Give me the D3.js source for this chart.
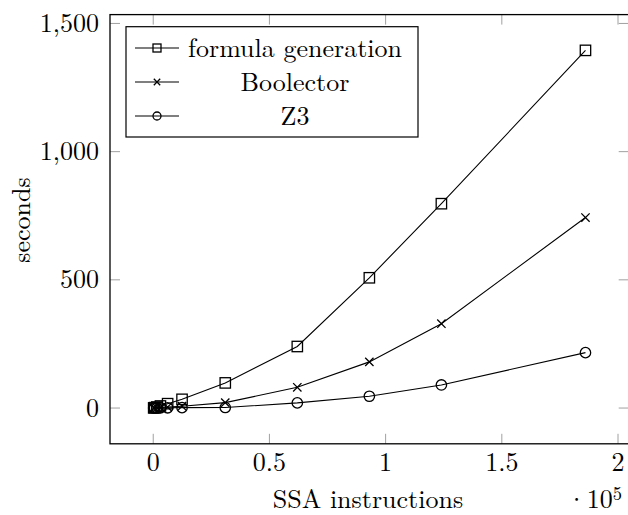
<!DOCTYPE html>
<html>
<head>
<meta charset="utf-8">
<script src="https://cdn.jsdelivr.net/npm/d3@7/dist/d3.min.js"></script>
<style>
  html, body { margin: 0; padding: 0; background: #fff; }
  svg { display: block; }
</style>
</head>
<body>
<svg id="chart" width="628" height="515"></svg>
<script>
// SSA instructions (x 1e5)
const ssaInstructions = [0.002, 0.006, 0.0155, 0.031, 0.062, 0.124, 0.31, 0.62, 0.93, 1.24, 1.86];
const formulaGeneration = [0.5, 1.5, 4, 8, 17, 34, 98, 240, 508, 797, 1395];
const boolector = [0.2, 0.5, 1, 2, 4, 7, 21, 81, 180, 329, 743];
const z3 = [0.1, 0.2, 0.4, 0.6, 1, 1.5, 2, 20, 46, 90, 216];
const seriesNames = ["formula generation", "Boolector", "Z3"];
const xTicks = [0, 0.5, 1, 1.5, 2];
const yTicks = [0, 500, 1000, 1500];

const FONT = '"Latin Modern Roman", "Liberation Serif", serif';
const svg = d3.select("#chart");
const L = 110, R = 628.7, T = 14.6, B = 443.8;
const x = d3.scaleLinear().domain([-0.186, 2.046]).range([L, R]);
const y = d3.scaleLinear().domain([-139.5, 1534.5]).range([B, T]);

const tickColor = "#a0a0a0";
const tickLen = 10;
const fs = 26;

function txt(sel) { return sel.append("text").style("font-family", FONT).style("font-size", fs + "px").attr("fill", "#000"); }

// ticks (inside, both sides)
const g = svg.append("g");
xTicks.forEach(t => {
  g.append("line").attr("x1", x(t)).attr("x2", x(t)).attr("y1", B).attr("y2", B - tickLen)
    .attr("stroke", tickColor).attr("stroke-width", 1);
  g.append("line").attr("x1", x(t)).attr("x2", x(t)).attr("y1", T).attr("y2", T + tickLen)
    .attr("stroke", tickColor).attr("stroke-width", 1);
  txt(g).attr("x", x(t)).attr("y", 471).attr("text-anchor", "middle").text(d3.format("")(t));
});
yTicks.forEach(t => {
  g.append("line").attr("x1", L).attr("x2", L + tickLen).attr("y1", y(t)).attr("y2", y(t))
    .attr("stroke", tickColor).attr("stroke-width", 1);
  g.append("line").attr("x1", R).attr("x2", R - tickLen).attr("y1", y(t)).attr("y2", y(t))
    .attr("stroke", tickColor).attr("stroke-width", 1);
  txt(g).attr("x", 99).attr("y", y(t) + 8.5).attr("text-anchor", "end").text(d3.format(",")(t));
});

// series
const series = [
  {name: seriesNames[0], vals: formulaGeneration, mark: "square"},
  {name: seriesNames[1], vals: boolector, mark: "cross"},
  {name: seriesNames[2], vals: z3, mark: "circle"}
];
const line = d3.line().x(d => x(d[0])).y(d => y(d[1]));

function drawMark(sel, type, cx, cy, s) {
  if (type === "square") {
    sel.append("rect").attr("x", cx - s).attr("y", cy - s).attr("width", 2 * s).attr("height", 2 * s)
      .attr("fill", "none").attr("stroke", "#000").attr("stroke-width", 1.3);
  } else if (type === "circle") {
    sel.append("circle").attr("cx", cx).attr("cy", cy).attr("r", s)
      .attr("fill", "none").attr("stroke", "#000").attr("stroke-width", 1.3);
  } else {
    const c = s * 0.8;
    sel.append("path").attr("d", `M${cx - c},${cy - c}L${cx + c},${cy + c}M${cx - c},${cy + c}L${cx + c},${cy - c}`)
      .attr("stroke", "#000").attr("stroke-width", 1.3).attr("fill", "none");
  }
}

const plot = svg.append("g");
series.forEach(s => {
  const pts = ssaInstructions.map((v, i) => [v, s.vals[i]]);
  plot.append("path").attr("d", line(pts)).attr("fill", "none").attr("stroke", "#000").attr("stroke-width", 1.1);
  pts.forEach(p => drawMark(plot, s.mark, x(p[0]), y(p[1]), 5.2));
});

// frame
svg.append("rect").attr("x", L).attr("y", T).attr("width", R - L).attr("height", B - T)
  .attr("fill", "none").attr("stroke", "#000").attr("stroke-width", 1.3);

// legend
const lg = svg.append("g");
lg.append("rect").attr("x", 126).attr("y", 26.7).attr("width", 292).attr("height", 110.3)
  .attr("fill", "#fff").attr("stroke", "#000").attr("stroke-width", 1.2);
const rowsY = [48, 82, 116];
series.forEach((s, i) => {
  lg.append("line").attr("x1", 135).attr("x2", 179).attr("y1", rowsY[i]).attr("y2", rowsY[i])
    .attr("stroke", "#000").attr("stroke-width", 1.1);
  drawMark(lg, s.mark, 157, rowsY[i], 4);
  txt(lg).attr("x", 295).attr("y", rowsY[i] + 8.5).attr("text-anchor", "middle").text(s.name);
});

// axis labels
txt(svg).attr("x", 368).attr("y", 508).attr("text-anchor", "middle").text("SSA instructions");
const exp = txt(svg).attr("x", 622).attr("y", 508).attr("text-anchor", "end");
exp.append("tspan").text("·10");
exp.append("tspan").attr("dy", -8).style("font-size", "18.5px").text("5");
txt(svg).attr("transform", "translate(30,220) rotate(-90)").attr("text-anchor", "middle").text("seconds");
</script>
</body>
</html>
